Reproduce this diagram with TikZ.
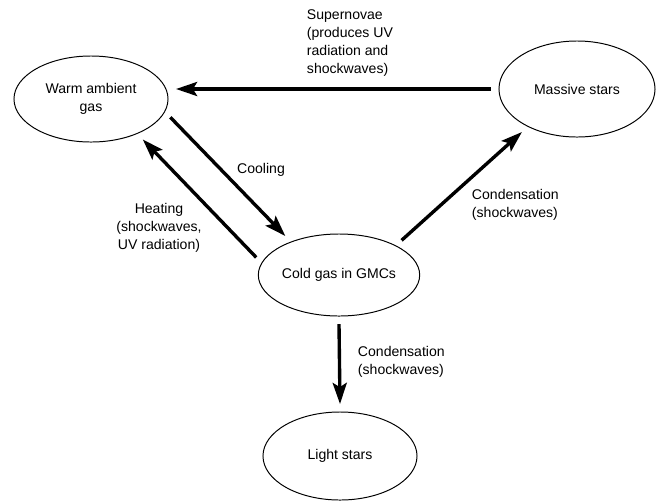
\documentclass[tikz,border=0pt]{standalone}
\usepackage{fontspec}
\setmainfont{Liberation Sans}
\usetikzlibrary{arrows.meta, shapes.geometric}

\begin{document}
\begin{tikzpicture}[x=0.025cm, y=-0.025cm,
		every node/.style={font=\fontsize{10}{12.8}\selectfont},
		phase/.style={draw, ellipse, line width=0.7pt, inner sep=0pt, outer sep=0.2cm, align=center},
		flow/.style={-{Stealth[length=15pt, width=10pt, inset=3pt]}, line width=2.4pt}]
	\useasboundingbox (0,0) rectangle (665,502);

	\node[phase, minimum width=3.85cm, minimum height=2.15cm] (warm) at (91,99) {Warm ambient\\gas};
	\node[phase, minimum width=3.9cm, minimum height=2.4cm] (massive) at (577,89) {Massive stars};
	\node[phase, minimum width=3.85cm, minimum height=2.05cm] (cold) at (339,275) {Cold gas in GMCs};
	\node[phase, minimum width=3.85cm, minimum height=2.2cm] (light) at (340,456) {Light stars};

	\draw[flow] (massive.west) -- (massive.west -| warm.east);
	\draw[flow] (warm.-13) -- (cold.144);
	\draw[flow] (cold.168) -- (warm.-38);
	\draw[flow] (cold.29) -- (massive.-142);
	\draw[flow] (cold.south) -- (light.north);

	\node[anchor=west, align=left] (snlabel) at (302,43) {Supernovae\\(produces UV\\radiation and\\shockwaves)};
	\node (coollabel) at (261,170) {Cooling};
	\node[align=center] (heatlabel) at (159,228) {Heating\\(shockwaves,\\UV radiation)};
	\node[anchor=west, align=left] (masslabel) at (467,205) {Condensation\\(shockwaves)};
	\node[anchor=west, align=left] (lightlabel) at (353,362) {Condensation\\(shockwaves)};
\end{tikzpicture}
\end{document}
